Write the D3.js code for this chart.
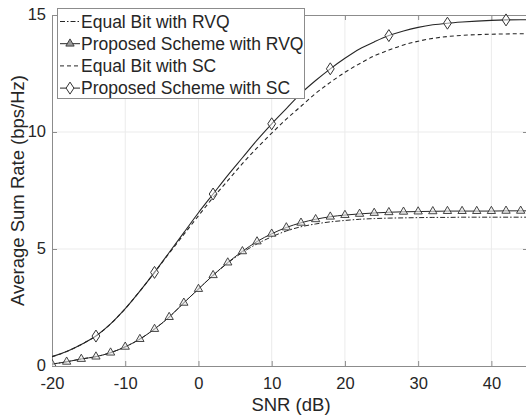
<!DOCTYPE html>
<html>
  <head>
    <meta charset="utf-8">
    <style>
      body { margin: 0; background: #fff; }
      text { font-family: "Liberation Sans", Arial, sans-serif; }
    </style>
    <script type="text/javascript" src="https://d3js.org/d3.v7.min.js"></script>
  </head>
  <body>
    <svg></svg>
    <script>
    var width = 526;
    var height = 416;

    // SNR grid (dB)
    var snr = [-20, -18, -16, -14, -12, -10, -8, -6, -4, -2, 0, 2, 4, 6, 8, 10, 12, 14, 16,
               18, 20, 22, 24, 26, 28, 30, 32, 34, 36, 38, 40, 42, 44, 45];

    var equalRVQ = [0.08, 0.18, 0.30, 0.40, 0.57, 0.82, 1.15, 1.58, 2.09, 2.70, 3.29, 3.87, 4.40, 4.85,
                    5.22, 5.52, 5.77, 5.95, 6.07, 6.16, 6.22, 6.27, 6.30, 6.32, 6.33, 6.34, 6.35,
                    6.35, 6.36, 6.36, 6.36, 6.36, 6.36, 6.36];
    var propRVQ  = [0.08, 0.18, 0.30, 0.40, 0.57, 0.82, 1.15, 1.58, 2.09, 2.70, 3.29, 3.88, 4.42, 4.90,
                    5.32, 5.65, 5.92, 6.12, 6.27, 6.38, 6.45, 6.50, 6.54, 6.57, 6.59, 6.60, 6.61,
                    6.62, 6.62, 6.62, 6.62, 6.63, 6.63, 6.63];
    var equalSC  = [0.40, 0.62, 0.92, 1.28, 1.80, 2.45, 3.20, 4.00, 4.82, 5.62, 6.42, 7.20, 7.92, 8.65,
                    9.32, 9.95, 10.55, 11.10, 11.65, 12.12, 12.55, 12.92, 13.25, 13.50, 13.72, 13.88,
                    14.00, 14.08, 14.13, 14.16, 14.18, 14.19, 14.20, 14.20];
    var propSC   = [0.40, 0.62, 0.92, 1.28, 1.80, 2.45, 3.20, 4.00, 4.85, 5.70, 6.55, 7.35, 8.15, 8.90,
                    9.65, 10.35, 11.00, 11.65, 12.20, 12.70, 13.15, 13.55, 13.85, 14.12, 14.32, 14.47,
                    14.58, 14.65, 14.70, 14.74, 14.77, 14.79, 14.80, 14.80];

    var triMarks = [-20, -18, -16, -14, -12, -10, -8, -6, -4, -2, 0, 2, 4, 6, 8, 10, 12, 14, 16,
                    18, 20, 22, 24, 26, 28, 30, 32, 34, 36, 38, 40, 42, 44];
    var diaMarks = [-14, -6, 2, 10, 18, 26, 34, 42];

    var xTicks = [-20, -10, 0, 10, 20, 30, 40];
    var yTicks = [0, 5, 10, 15];

    var legendNames = ["Equal Bit with RVQ", "Proposed Scheme with RVQ",
                       "Equal Bit with SC", "Proposed Scheme with SC"];

    var mLeft = 52, mRight = 528, mTop = 15, mBottom = 366;

    var svg = d3.select("svg")
        .attr("width", width)
        .attr("height", height);

    var x = d3.scaleLinear().domain([-20, 45]).range([mLeft, mRight]);
    var y = d3.scaleLinear().domain([0, 15]).range([mBottom, mTop]);

    // grid
    svg.append("g").selectAll("line")
        .data(xTicks.slice(1))
      .enter().append("line")
        .attr("x1", function(d) { return x(d); })
        .attr("x2", function(d) { return x(d); })
        .attr("y1", mTop).attr("y2", mBottom)
        .attr("stroke", "#ebebeb");
    svg.append("g").selectAll("line")
        .data(yTicks.slice(1, 3))
      .enter().append("line")
        .attr("y1", function(d) { return y(d); })
        .attr("y2", function(d) { return y(d); })
        .attr("x1", mLeft).attr("x2", mRight)
        .attr("stroke", "#ebebeb");

    var axisColor = "#8c8c8c";

    var xAxis = svg.append("g")
        .attr("transform", "translate(0," + mBottom + ")")
        .call(d3.axisBottom(x).tickValues(xTicks).tickSizeInner(-5).tickSizeOuter(0).tickPadding(11));
    var xTop = svg.append("g")
        .attr("transform", "translate(0," + mTop + ")")
        .call(d3.axisTop(x).tickValues(xTicks).tickSizeInner(-5).tickSizeOuter(0).tickFormat(""));
    var yAxis = svg.append("g")
        .attr("transform", "translate(" + mLeft + ",0)")
        .call(d3.axisLeft(y).tickValues(yTicks).tickSizeInner(-5).tickSizeOuter(0).tickPadding(6));
    var yRight = svg.append("g")
        .attr("transform", "translate(" + mRight + ",0)")
        .call(d3.axisRight(y).tickValues(yTicks).tickSizeInner(-5).tickSizeOuter(0).tickFormat(""));

    [xAxis, xTop, yAxis, yRight].forEach(function(a) {
        a.selectAll("path, line").attr("stroke", axisColor);
        a.selectAll("text")
            .attr("fill", "#262626")
            .style("font-size", "16.5px")
            .style("font-family", "'Liberation Sans', Arial, sans-serif");
    });
    xAxis.selectAll("text").text(function(d) { return d < 0 ? "-" + (-d) : d; });
    yAxis.selectAll("text").attr("dy", "0.28em");

    svg.append("text")
        .attr("x", (mLeft + mRight) / 2 + 1)
        .attr("y", 411)
        .attr("text-anchor", "middle")
        .attr("fill", "#262626")
        .style("font-size", "18.5px")
        .text("SNR (dB)");

    svg.append("text")
        .attr("transform", "translate(24," + ((mTop + mBottom) / 2) + ") rotate(-90)")
        .attr("text-anchor", "middle")
        .attr("fill", "#262626")
        .style("font-size", "18.5px")
        .text("Average Sum Rate (bps/Hz)");

    // curves
    svg.append("clipPath").attr("id", "clip")
      .append("rect").attr("x", mLeft).attr("y", mTop - 10)
        .attr("width", mRight - mLeft).attr("height", mBottom - mTop + 10);

    var plot = svg.append("g").attr("clip-path", "url(#clip)");

    var line = d3.line()
        .x(function(d) { return x(d[0]); })
        .y(function(d) { return y(d[1]); })
        .curve(d3.curveMonotoneX);

    function pairs(vals) { return snr.map(function(s, i) { return [s, vals[i]]; }); }

    var series = [
        { vals: equalRVQ, dash: "5,2,1.5,2", width: 1 },
        { vals: propRVQ, dash: null, width: 1 },
        { vals: equalSC, dash: "4,3", width: 1.1 },
        { vals: propSC, dash: null, width: 1.1 }
    ];

    series.forEach(function(s) {
        plot.append("path")
            .datum(pairs(s.vals))
            .attr("fill", "none")
            .attr("stroke", "#262626")
            .attr("stroke-width", s.width)
            .attr("stroke-dasharray", s.dash)
            .attr("d", line);
    });

    var tri = d3.symbol().type(d3.symbolTriangle).size(30);
    var dia = "M0,-6L3.9,0L0,6L-3.9,0Z";

    plot.append("g").selectAll("path")
        .data(triMarks)
      .enter().append("path")
        .attr("transform", function(d) { return "translate(" + x(d) + "," + y(propRVQ[snr.indexOf(d)]) + ")"; })
        .attr("d", tri)
        .attr("fill", "#e8e8e8")
        .attr("fill-opacity", 0.6)
        .attr("stroke", "#333")
        .attr("stroke-width", 0.9);

    plot.append("g").selectAll("path")
        .data(diaMarks)
      .enter().append("path")
        .attr("transform", function(d) { return "translate(" + x(d) + "," + y(propSC[snr.indexOf(d)]) + ")"; })
        .attr("d", dia)
        .attr("fill", "#ffffff")
        .attr("fill-opacity", 0.5)
        .attr("stroke", "#333")
        .attr("stroke-width", 1);

    // legend
    var lg = svg.append("g");
    lg.append("rect")
        .attr("x", 57.5).attr("y", 8.5)
        .attr("width", 247).attr("height", 90)
        .attr("fill", "#fff")
        .attr("stroke", axisColor);

    legendNames.forEach(function(name, i) {
        var cy = 21.5 + i * 22.2;
        lg.append("line")
            .attr("x1", 60).attr("x2", 80)
            .attr("y1", cy).attr("y2", cy)
            .attr("stroke", "#262626")
            .attr("stroke-dasharray", series[i].dash);
        if (i === 1) {
            lg.append("path").attr("transform", "translate(70," + cy + ")")
                .attr("d", tri).attr("fill", "#999").attr("stroke", "#333").attr("stroke-width", 0.9);
        }
        if (i === 3) {
            lg.append("path").attr("transform", "translate(70," + cy + ")")
                .attr("d", dia).attr("fill", "#fff").attr("stroke", "#333");
        }
        lg.append("text")
            .attr("x", 81)
            .attr("y", cy + 6)
            .attr("fill", "#262626")
            .style("font-size", "17.5px")
            .text(name);
    });
    </script>
  </body>
</html>
